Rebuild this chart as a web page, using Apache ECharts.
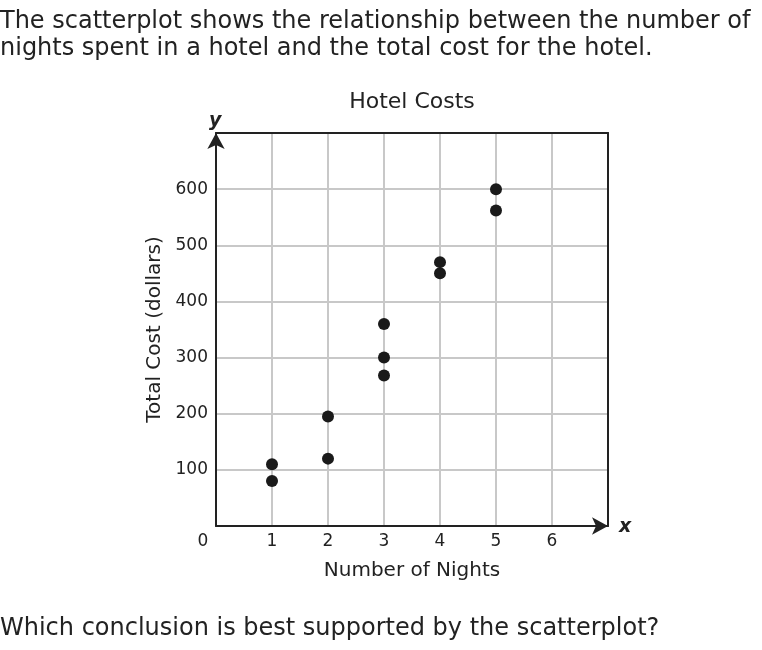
<!DOCTYPE html>
<html>
<head>
<meta charset="utf-8">
<script src="https://cdn.jsdelivr.net/npm/echarts@6/dist/echarts.min.js"></script>
<style>
  html, body { margin: 0; padding: 0; background: #fff; }
  #chart { width: 762px; height: 650px; }
</style>
</head>
<body>
<div id="chart"></div>
<script>
// 数据
var nights = [1, 1, 2, 2, 3, 3, 3, 4, 4, 5, 5];
var costs = [110, 80, 195, 120, 360, 300, 268, 470, 450, 600, 562];
var xTicks = [0, 1, 2, 3, 4, 5, 6];
var yTicks = [100, 200, 300, 400, 500, 600];

var points = nights.map(function (n, i) { return [n, costs[i]]; });

var font = 'DejaVu Sans, Verdana, sans-serif';
var ink = '#222';

var chart = echarts.init(document.getElementById('chart'));

// 上边和右边的框线，用不显示刻度的副坐标轴画
var borderAxis = {
    type: 'value', show: true, z: 6,
    axisLine: { show: true, onZero: false, lineStyle: { color: '#222', width: 2 } },
    axisTick: { show: false },
    axisLabel: { show: false },
    splitLine: { show: false }
};

var option = {
    backgroundColor: '#fff',
    title: [{
        text: 'The scatterplot shows the relationship between the number of\nnights spent in a hotel and the total cost for the hotel.',
        left: 0, top: 8, padding: 0,
        textStyle: { fontFamily: font, fontSize: 24, fontWeight: 'normal', color: ink, lineHeight: 27 }
    }, {
        text: 'Hotel Costs',
        left: 412, top: 91, padding: 0, textAlign: 'center',
        textStyle: { fontFamily: font, fontSize: 22, fontWeight: 'normal', color: ink }
    }, {
        text: 'Which conclusion is best supported by the scatterplot?',
        left: 0, top: 617, padding: 0,
        textStyle: { fontFamily: font, fontSize: 24, fontWeight: 'normal', color: ink }
    }],
    grid: {
        left: 216, top: 133, width: 392, height: 393
    },
    xAxis: [{
        type: 'value', min: 0, max: 7, interval: 1,
        name: 'Number of Nights', nameLocation: 'middle', nameGap: 35,
        nameTextStyle: { fontFamily: font, fontSize: 20, color: ink },
        axisLine: { show: true, onZero: false, symbol: ['none', 'arrow'], symbolSize: [13, 16],
            lineStyle: { color: '#222', width: 2 } },
        axisTick: { show: false },
        splitLine: { show: true, lineStyle: { color: '#c8c8c8', width: 2 } },
        axisLabel: {
            margin: 7, fontFamily: font, fontSize: 17, color: ink,
            formatter: function (v) {
                if (v === 0) return '{z|0}';
                return xTicks.indexOf(v) >= 0 ? String(v) : '';
            },
            rich: { z: { fontFamily: font, fontSize: 17, color: ink, padding: [0, 26, 0, 0] } }
        },
        z: 3
    }, Object.assign({ position: 'top', min: 0, max: 7 }, borderAxis)],
    yAxis: [{
        type: 'value', min: 0, max: 700, interval: 100,
        name: 'Total Cost (dollars)', nameLocation: 'middle', nameGap: 50,
        nameTextStyle: { fontFamily: font, fontSize: 20, color: ink },
        axisLine: { show: true, onZero: false, symbol: ['none', 'arrow'], symbolSize: [13, 16],
            lineStyle: { color: '#222', width: 2 } },
        axisTick: { show: false },
        splitLine: { show: true, lineStyle: { color: '#c8c8c8', width: 2 } },
        axisLabel: {
            margin: 8, fontFamily: font, fontSize: 17, color: ink,
            formatter: function (v) { return yTicks.indexOf(v) >= 0 ? String(v) : ''; }
        },
        z: 3
    }, Object.assign({ position: 'right', min: 0, max: 700 }, borderAxis)],
    graphic: [{
        type: 'text', left: 209, top: 112,
        style: { text: 'y', font: 'italic bold 19px ' + font, fill: ink }
    }, {
        type: 'text', left: 619, top: 518,
        style: { text: 'x', font: 'italic bold 19px ' + font, fill: ink }
    }],
    series: [{
        type: 'scatter',
        data: points,
        symbolSize: 12,
        itemStyle: { color: '#1a1a1a', opacity: 1 },
        silent: true,
        z: 5
    }]
};

chart.setOption(option);
</script>
</body>
</html>
